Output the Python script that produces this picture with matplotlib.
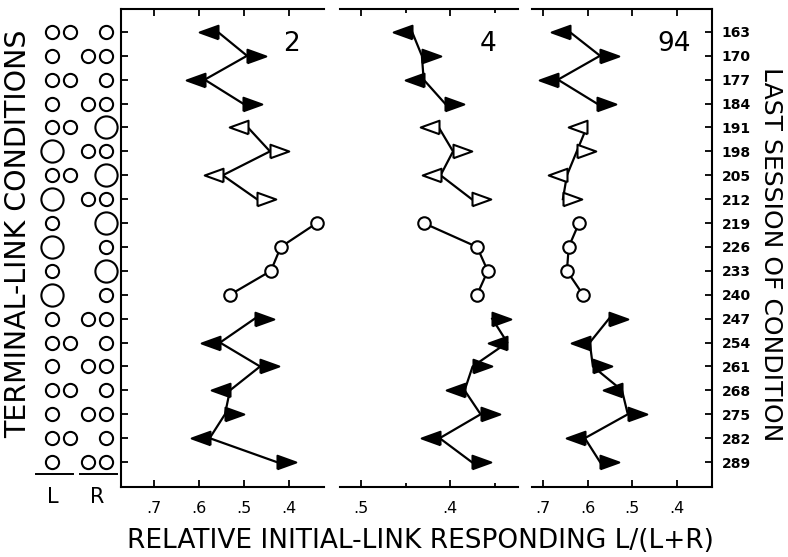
import matplotlib
matplotlib.use("Agg")
import matplotlib.pyplot as plt

# last session of each condition (rows, top to bottom)
sessions = [163, 170, 177, 184, 191, 198, 205, 212, 219, 226, 233, 240,
            247, 254, 261, 268, 275, 282, 289]

# terminal-link key: 1 / 2 small circles, B = one big circle
left_keys = ['2', '1', '2', '1', '2', 'B', '2', 'B', '1', 'B', '1', 'B',
             '1', '2', '1', '2', '1', '2', '1']
right_keys = ['1', '2', '1', '2', 'B', '2', 'B', '2', 'B', '1', 'B', '1',
              '2', '1', '2', '1', '2', '1', '2']

# relative initial-link responding L/(L+R), one list per subject
subj_2 = [0.558, 0.493, 0.587, 0.502, 0.491, 0.442, 0.547, 0.471,
          0.338, 0.418, 0.440, 0.531,
          0.476, 0.553, 0.464, 0.531, 0.542, 0.576, 0.427]
subj_4 = [0.443, 0.432, 0.430, 0.406, 0.413, 0.397, 0.411, 0.376,
          0.430, 0.370, 0.358, 0.370,
          0.353, 0.336, 0.375, 0.384, 0.366, 0.412, 0.376]
subj_94 = [0.640, 0.572, 0.666, 0.579, 0.602, 0.624, 0.646, 0.655,
           0.619, 0.642, 0.646, 0.610,
           0.552, 0.595, 0.588, 0.523, 0.510, 0.606, 0.572]
subjects = ['2', '4', '94']

# groups of conditions joined by lines: (first, last) row, marker kind
groups = [(0, 4, 'filled'), (4, 8, 'open'), (8, 12, 'circle'), (12, 19, 'filled')]

plt.rcParams['font.family'] = 'DejaVu Sans'

W, H = 788, 557
fig = plt.figure(figsize=(W / 100, H / 100), dpi=100)


def fx(px):
    return px / W


def fy(px):
    return 1 - px / H


top, bot = 9, 487
panels = [(121, 324, (0.773, 0.322), [0.7, 0.6, 0.5, 0.4], []),
          (340, 518, (0.524, 0.324), [0.5, 0.4], [0.45, 0.35]),
          (532, 712, (0.724, 0.322), [0.7, 0.6, 0.5, 0.4], [])]
ylim = (296.3, 156.3)

# triangle markers with the data point at the base
tri_left = [(0, -0.36), (0, 0.36), (-1, 0), (0, -0.36)]
tri_right = [(0, -0.36), (0, 0.36), (1, 0), (0, -0.36)]

axes = []
for i, (x0, x1, xl, majors, minors) in enumerate(panels):
    ax = fig.add_axes([fx(x0), fy(bot), fx(x1) - fx(x0), fy(top) - fy(bot)])
    ax.set_xlim(xl)
    ax.set_ylim(ylim)
    for s in ax.spines.values():
        s.set_linewidth(1.5)
    ax.spines['left'].set_visible(i == 0)
    ax.spines['right'].set_visible(i == 2)
    ax.set_xticks(majors)
    ax.set_xticklabels([('%.1f' % v)[1:] for v in majors], fontsize=11.5)
    ax.set_xticks(minors, minor=True)
    ax.tick_params(axis='x', which='both', direction='in', top=True, length=5, width=1.3, pad=10)
    ax.tick_params(axis='x', which='minor', length=3)
    ax.set_yticks(sessions)
    if i == 0:
        ax.tick_params(axis='y', direction='in', left=True, right=False, labelleft=False, length=5, width=1.3)
    elif i == 2:
        ax.tick_params(axis='y', direction='in', left=False, right=True, labelleft=False,
                       labelright=True, length=5, width=1.3, pad=7)
        for lab in ax.get_yticklabels():
            lab.set_fontweight('bold')
            lab.set_fontsize(10)
    else:
        ax.tick_params(axis='y', left=False, right=False, labelleft=False)
    axes.append(ax)

for ax, vals, name in zip(axes, [subj_2, subj_4, subj_94], subjects):
    for a, b, kind in groups:
        ax.plot(vals[a:b], sessions[a:b], color='black', lw=1.6, zorder=2)
        for j in range(a, b):
            if kind == 'circle':
                ax.plot(vals[j], sessions[j], marker='o', ms=9, mfc='white', mec='black',
                        mew=1.5, zorder=3)
            else:
                pointing_left = left_keys[j] == '2'
                m = tri_left if pointing_left else tri_right
                face = 'black' if kind == 'filled' else 'white'
                ax.plot(vals[j], sessions[j], marker=m, ms=27, mfc=face, mec='black',
                        mew=1.5, zorder=3, linestyle='none')
    ax.text(0.88, 0.955, name, transform=ax.transAxes, ha='right', va='top', fontsize=19)

# terminal-link key on the left
axk = fig.add_axes([fx(30), fy(bot), fx(120) - fx(30), fy(top) - fy(bot)])
axk.set_xlim(30, 120)
axk.set_ylim(ylim)
axk.axis('off')
left_pos = {'1': [52], '2': [52, 70], 'B': [52]}
right_pos = {'1': [106], '2': [88, 106], 'B': [106]}
for s, lk, rk in zip(sessions, left_keys, right_keys):
    for key, pos in ((lk, left_pos), (rk, right_pos)):
        size = 16 if key == 'B' else 9.5
        for x in pos[key]:
            axk.plot(x, s, marker='o', ms=size, mfc='white', mec='black', mew=1.5)
under = sessions[-1] + 3.6
axk.plot([36, 73], [under, under], color='black', lw=1.4, clip_on=False)
axk.plot([80, 117], [under, under], color='black', lw=1.4, clip_on=False)
fig.text(fx(53), fy(497), 'L', ha='center', va='center', fontsize=15)
fig.text(fx(97), fy(497), 'R', ha='center', va='center', fontsize=15)

fig.text(fx(420), fy(541), 'RELATIVE INITIAL-LINK RESPONDING L/(L+R)', ha='center',
         va='center', fontsize=19)
fig.text(fx(18), fy(234), 'TERMINAL-LINK CONDITIONS', ha='center', va='center',
         rotation=90, fontsize=20.5)
fig.text(fx(771), fy(254), 'LAST SESSION OF CONDITION', ha='center', va='center',
         rotation=-90, fontsize=18)

fig.savefig('out.png', dpi=100)
